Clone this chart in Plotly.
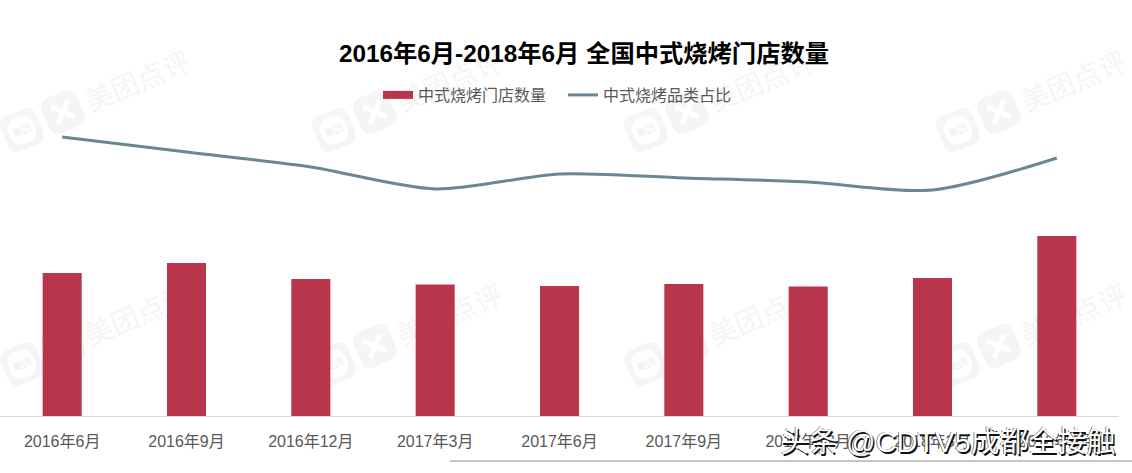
import math
import plotly.graph_objects as go

# Values (units estimated, no axis in the original)
MONTHS = ['2016年6月', '2016年9月', '2016年12月', '2017年3月', '2017年6月',
          '2017年9月', '2017年12月', '2018年3月', '2018年6月']
STORES = [143, 153, 137, 131.5, 130, 132, 129.5, 138, 180]
SHARE = [2.79, 2.64, 2.49, 2.27, 2.42, 2.38, 2.34, 2.26, 2.58]

W, H = 1132, 473
BASE_Y = 416
FONT = 'Liberation Sans, Noto Sans CJK SC, sans-serif'
BAR_COLOR = '#b8354b'
LINE_COLOR = '#6b8791'
MARK_COLOR = '#f5f5f5'
ANGLE = -23


def px(x, y):
    # paper coordinates cover the plot area only, which ends at the baseline
    return x / W, 1 - y / BASE_Y


def rotated(cx, cy, u, v):
    a = math.radians(ANGLE)
    return px(cx + u * math.cos(a) - v * math.sin(a), cy + u * math.sin(a) + v * math.cos(a))


def rounded_square(cx, cy, size, r=0.28):
    # rotated rounded square as an svg path in paper coordinates
    s = size / 2
    c = size * r

    def pt(u, v):
        x, y = rotated(cx, cy, u, v)
        return f'{x:.5f},{y:.5f}'

    return (f'M{pt(-s + c, -s)} L{pt(s - c, -s)} Q{pt(s, -s)} {pt(s, -s + c)} '
            f'L{pt(s, s - c)} Q{pt(s, s)} {pt(s - c, s)} L{pt(-s + c, s)} '
            f'Q{pt(-s, s)} {pt(-s, s - c)} L{pt(-s, -s + c)} Q{pt(-s, -s)} {pt(-s + c, -s)} Z')


def mark_path(path, color):
    return dict(type='path', xref='paper', yref='paper', layer='below', line_width=0,
                fillcolor=color, path=path)


def mark_label(cx, cy, w, h, text, size, color):
    x0, y0 = px(cx - w / 2, cy - h / 2)
    x1, y1 = px(cx + w / 2, cy + h / 2)
    return dict(type='rect', xref='paper', yref='paper', layer='below', line_width=0,
                fillcolor='rgba(0,0,0,0)', x0=x0, x1=x1, y0=y0, y1=y1,
                label=dict(text=text, textangle=ANGLE, textposition='middle center',
                           font=dict(size=size, color=color, family=FONT)))


def mark_stroke(cx, cy, u0, v0, u1, v1):
    x0, y0 = rotated(cx, cy, u0, v0)
    x1, y1 = rotated(cx, cy, u1, v1)
    return dict(type='line', xref='paper', yref='paper', layer='below', x0=x0, y0=y0, x1=x1, y1=y1,
                line=dict(color='#ffffff', width=5))


fig = go.Figure()
fig.add_trace(go.Bar(x=MONTHS, y=STORES, name='中式烧烤门店数量', marker_color=BAR_COLOR,
                     marker_line_width=0, width=0.314, showlegend=False))
# wide swatch for the bar series, plotly's own bar swatch is a small square
fig.add_trace(go.Scatter(x=[None], y=[None], name='中式烧烤门店数量', mode='lines',
                         line=dict(color=BAR_COLOR, width=8)))
fig.add_trace(go.Scatter(x=MONTHS, y=SHARE, name='中式烧烤品类占比', mode='lines', yaxis='y2',
                         line=dict(color=LINE_COLOR, width=3, shape='spline', smoothing=0.8)))

# Meituan-Dianping watermark tiles behind the chart
shapes = []
annotations = []
for col in range(4):
    for row in range(2):
        dx = col * 312
        dy = row * 234
        shapes.append(mark_path(rounded_square(22 + dx, 130 + dy, 38), MARK_COLOR))
        shapes.append(mark_path(rounded_square(22 + dx, 130 + dy, 27, r=0.45), '#ffffff'))
        shapes.append(mark_label(22 + dx, 130 + dy, 30, 30, '美团', 10, '#eeeeee'))
        shapes.append(mark_path(rounded_square(63 + dx, 112 + dy, 38), MARK_COLOR))
        shapes.append(mark_stroke(63 + dx, 112 + dy, -9, -9, 9, 9))
        shapes.append(mark_stroke(63 + dx, 112 + dy, 9, -9, -9, 9))
        shapes.append(mark_label(137 + dx, 79 + dy, 100, 40, '美团点评', 28, MARK_COLOR))

# bottom strip of the repost
rule_y = px(0, 461)[1]
shapes.append(dict(type='line', xref='paper', yref='paper', x0=450 / W, x1=1, y0=rule_y, y1=rule_y,
                   line=dict(color='#8c8c8c', width=1)))
note_x, note_y = px(1118, 442)
annotations.append(dict(text='头条 @CDTV5成都全接触', x=note_x, y=note_y, xref='paper', yref='paper',
                        xanchor='right', yanchor='middle', showarrow=False,
                        font=dict(size=29, color='#ffffff', family=FONT,
                                  shadow='1.5px 1.5px 0 #111111, -0.5px -0.5px 0 #111111')))

fig.update_layout(
    width=W, height=H,
    autosize=False,
    margin=dict(l=0, r=0, t=0, b=H - BASE_Y),
    paper_bgcolor='white',
    plot_bgcolor='rgba(0,0,0,0)',
    font=dict(family=FONT),
    title=dict(text='<b>2016年6月-2018年6月 全国中式烧烤门店数量</b>', x=584 / W, xanchor='center',
               y=1 - 53 / H, yanchor='middle', font=dict(size=24.3, color='#000000', family=FONT)),
    legend=dict(orientation='h', x=563 / W, y=1 - 95 / BASE_Y, xanchor='center', yanchor='middle',
                font=dict(size=16, color='#595959'), itemwidth=30, bgcolor='rgba(0,0,0,0)',
                entrywidth=140, entrywidthmode='pixels'),
    xaxis=dict(domain=[0, 1119 / W], type='category', showgrid=False, zeroline=False, ticks='',
               showline=True, linecolor='#d9d9d9', linewidth=1, ticklabelstandoff=11,
               tickfont=dict(size=16, color='#595959')),
    yaxis=dict(range=[0, BASE_Y], visible=False),
    yaxis2=dict(range=[0, 4.16], overlaying='y', side='right', visible=False),
    shapes=shapes,
    annotations=annotations,
    bargap=0.686,
)

fig.write_html('out.html', config={'displayModeBar': False},
               post_script="document.body.style.margin='0'")
